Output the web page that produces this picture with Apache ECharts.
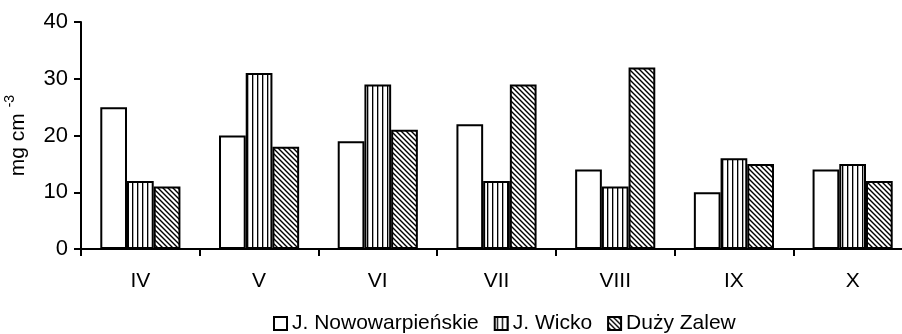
<!DOCTYPE html>
<html>
<head>
<meta charset="utf-8">
<style>
html,body{margin:0;padding:0;background:#fff;}
#chart{width:902px;height:334px;}
</style>
<script src="https://cdn.jsdelivr.net/npm/echarts@6/dist/echarts.min.js"></script>
</head>
<body>
<div id="chart"></div>
<script>
var categories = ['IV', 'V', 'VI', 'VII', 'VIII', 'IX', 'X'];
var seriesNames = ['J. Nowowarpieńskie', 'J. Wicko', 'Duży Zalew'];
var nowowarpienskie = [25, 20, 19, 22, 14, 10, 14];
var wicko = [12, 31, 29, 12, 11, 16, 15];
var duzyZalew = [11, 18, 21, 29, 32, 15, 12];
var yTicks = [0, 10, 20, 30, 40];

function stripePattern() {
  var c = document.createElement('canvas');
  c.width = 5; c.height = 5;
  var ctx = c.getContext('2d');
  ctx.fillStyle = '#fff'; ctx.fillRect(0, 0, 5, 5);
  ctx.fillStyle = '#000'; ctx.fillRect(2, 0, 1, 5);
  ctx.fillStyle = '#aaa'; ctx.fillRect(3, 0, 1, 5);
  return c;
}
function hatchPattern() {
  var s = 5;
  var c = document.createElement('canvas');
  c.width = s; c.height = s;
  var ctx = c.getContext('2d');
  ctx.fillStyle = '#fff'; ctx.fillRect(0, 0, s, s);
  ctx.strokeStyle = '#000'; ctx.lineWidth = 1.4;
  ctx.beginPath();
  ctx.moveTo(-1, -1); ctx.lineTo(s + 1, s + 1);
  ctx.moveTo(-1, s - 1); ctx.lineTo(1, s + 1);
  ctx.moveTo(s - 1, -1); ctx.lineTo(s + 1, 1);
  ctx.stroke();
  return c;
}

var fonts = '"Liberation Sans", Arial, sans-serif';
var chart = echarts.init(document.getElementById('chart'), null, {renderer: 'canvas'});
var fills = ['#ffffff', {image: stripePattern(), repeat: 'repeat'}, {image: hatchPattern(), repeat: 'repeat'}];
var dataSets = [nowowarpienskie, wicko, duzyZalew];

chart.setOption({
  backgroundColor: '#fff',
  animation: false,
  textStyle: {fontFamily: fonts, color: '#000'},
  grid: {left: 81, right: -10, top: 22, bottom: 85, outerBoundsMode: 'none', containLabel: false},
  legend: {
    left: 268, top: 308,
    icon: 'rect',
    itemWidth: 13, itemHeight: 13, itemGap: 15,
    textStyle: {fontSize: 21, color: '#000', fontFamily: fonts},
    data: seriesNames
  },
  xAxis: {
    type: 'category',
    data: categories,
    axisLine: {lineStyle: {color: '#000', width: 2}},
    axisTick: {show: true, length: 7, lineStyle: {color: '#000', width: 2}},
    axisLabel: {fontSize: 21, color: '#000', margin: 22, fontFamily: fonts},
    splitLine: {show: false}
  },
  yAxis: {
    type: 'value',
    min: yTicks[0], max: yTicks[yTicks.length - 1], interval: 10,
    name: '{b|mg cm }{s|-3}',
    nameLocation: 'middle',
    nameRotate: 90,
    nameGap: 52,
    nameTextStyle: {
      rich: {
        b: {fontSize: 21, fontFamily: fonts, color: '#000', lineHeight: 26, verticalAlign: 'bottom'},
        s: {fontSize: 14, fontFamily: fonts, color: '#000', verticalAlign: 'top', lineHeight: 26}
      }
    },
    axisLine: {show: true, lineStyle: {color: '#000', width: 2}},
    axisTick: {show: true, length: 7, lineStyle: {color: '#000', width: 2}},
    axisLabel: {fontSize: 22, color: '#000', margin: 13, fontFamily: fonts},
    splitLine: {show: false}
  },
  series: dataSets.map(function (d, i) {
    return {
      name: seriesNames[i],
      type: 'bar',
      data: d,
      barGap: '0%',
      barCategoryGap: '32.5%',
      itemStyle: {color: fills[i], borderColor: '#000', borderWidth: 2},
      emphasis: {disabled: true}
    };
  })
});
</script>
</body>
</html>
